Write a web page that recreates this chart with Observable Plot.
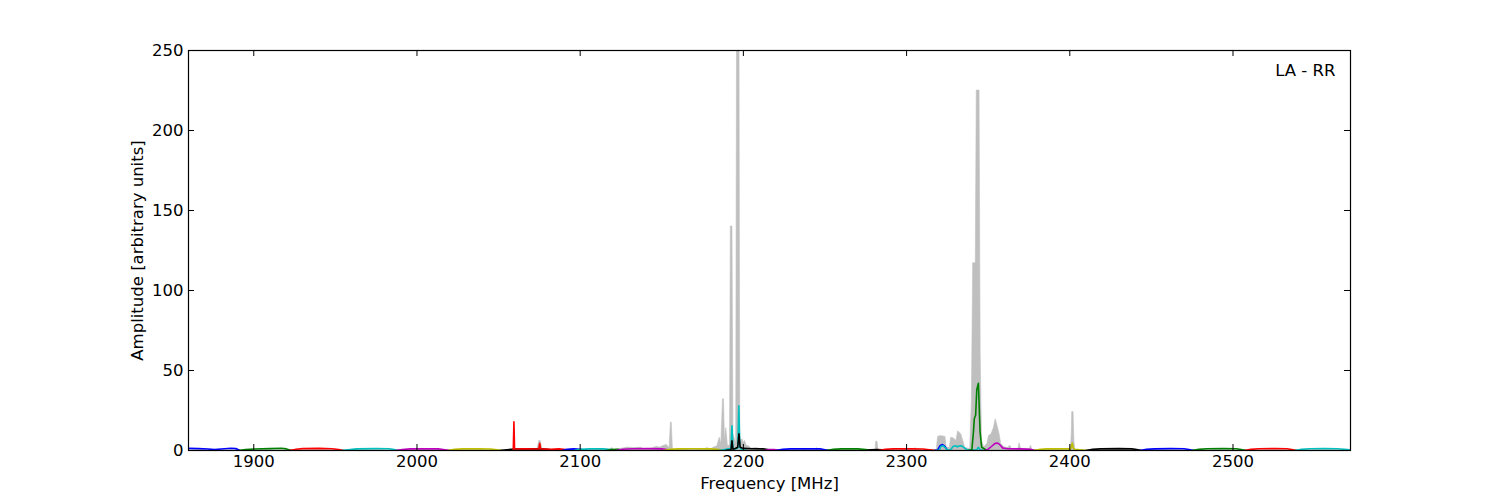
<!DOCTYPE html>
<html><head><meta charset="utf-8">
<script src="https://cdn.jsdelivr.net/npm/d3@7"></script>
<script src="https://cdn.jsdelivr.net/npm/@observablehq/plot@0.6"></script>
<style>body{margin:0;background:#fff;} #chart{width:1500px;height:500px;}</style>
</head><body><div id="chart"></div>
<script>
const xTicks = [1900, 2000, 2100, 2200, 2300, 2400, 2500];
const yTicks = [0, 50, 100, 150, 200, 250];
const panelLabel = "LA - RR";

// grey envelope (frequency, amplitude)
const grayFreq = [1860,2073.6,2075,2075.8,2077,2110,2118,2119.5,2121,2125,2129,2133,2137,2140,2144,2147,2149,2151,2153,2154.8,2155.6,2156.1,2156.8,2158,2163,2176,2178,2180,2182,2184,2185.5,2186.5,2187.5,2188.1,2188.7,2189.5,2190.5,2191.8,2192.3,2193.3,2193.9,2195.6,2196.1,2197.6,2198.1,2198.6,2199.4,2200.2,2201,2202,2203.5,2205,2208,2211,2214,2230,2230.5,2231,2236,2237,2238,2244,2245,2246,2281,2281.4,2282.2,2282.7,2305,2305.6,2306.2,2318.5,2319.3,2321,2323.8,2324.5,2326.5,2327.3,2329,2330.5,2331.6,2333.5,2335,2336,2339,2340,2340.8,2342.4,2343,2344.7,2345.4,2346.2,2347.5,2349.5,2350.5,2352,2353.5,2354.6,2355.8,2357,2358,2360,2362,2363.5,2364.5,2368.5,2369.2,2370.2,2375.5,2376.3,2377,2400.6,2401.2,2401.5,2402.3,2402.8,2403.4,2572];
const grayAmp  = [0,0,6,6,0,0,0,1.5,0.4,1,1.8,1.5,1.8,0.5,1.2,2.3,1.8,2.8,3.5,1.5,17.5,17.5,1,0.5,0.3,0.5,1.5,0.5,1.8,2.5,8,4,32,32,6,14,3,3,140,140,10,4,262,262,8,5,7,4.5,6,3,2.5,1.2,1.5,0.8,0,0,1,0,0,1.2,0,0,1.5,0,0,5.5,5.5,0,0,1.5,0,0,8.5,9,8.5,2,1.5,8,7.5,6,12,10,5,1.5,1,30,117,117,225,225,60,6,2,4,9,10,14,19.5,15,10,4,2,1.5,3,1,1,4.5,1,1,3,0,0,10,24,24,6,0,0];

// per-subband traces
const bandColor = ["#0000ff","#008000","#ff0000","#00bfbf","#bf00bf","#bfbf00","#000000",
  "#ff0000","#0000ff","#00bfbf","#008000","#bf00bf","#bfbf00","#00bfbf","#000000","#bf00bf",
  "#0000ff","#008000","#000000","#ff0000","#0000ff","#00bfbf","#008000","#bf00bf","#bfbf00",
  "#000000","#0000ff","#008000","#ff0000","#00bfbf"];
const bandFreq = [
  [1860,1866,1872,1876,1880,1886,1889,1891.5],
  [1891,1895,1900,1910,1917,1920,1923],
  [1922,1926,1930,1940,1948,1952,1955],
  [1954,1958,1963,1975,1983,1986,1988],
  [1987,1991,1996,2005,2013,2017,2020],
  [2019,2023,2028,2038,2045,2049,2052],
  [2051,2055,2060,2070,2078,2082,2084],
  [2059,2059.4,2059.8,2060.3,2066,2074.6,2075.2,2075.8,2082,2087,2091,2093],
  [2089,2092,2096,2100,2104],
  [2096,2100,2106,2114,2119,2122],
  [2116,2119,2123,2127],
  [2122,2126,2132,2142,2150,2154,2157],
  [2151,2155,2160,2170,2180,2185,2188],
  [2185,2188,2191,2192.4,2193,2193.6,2195,2196.6,2197.2,2197.8,2199,2202],
  [2189,2191,2192.4,2193,2193.6,2195,2196.5,2197.3,2198,2200,2205,2212,2216,2218],
  [2213,2216,2219,2222],
  [2220,2224,2229,2240,2247,2250,2253],
  [2251,2255,2260,2270,2275,2278],
  [2275,2278,2282,2285,2288],
  [2283,2287,2292,2303,2310,2314,2318],
  [2317,2319,2320.5,2322,2323.5,2325],
  [2318,2320,2321,2322.3,2323.5,2325,2327,2328.5,2330,2331,2332,2333.5,2335,2337,2340,2343,2344,2345,2347],
  [2338,2340,2341,2341.5,2342.3,2343,2344,2345,2346,2348,2350],
  [2348,2350,2352,2354,2355.5,2357,2359,2362,2370,2376,2379],
  [2378,2382,2386,2395,2400.5,2401.5,2402.2,2403,2406,2409,2411],
  [2410,2414,2419,2430,2438,2441,2444],
  [2443,2447,2452,2462,2470,2473,2476],
  [2475,2479,2484,2494,2502,2505,2508],
  [2507,2511,2516,2526,2533,2536,2539],
  [2538,2542,2547,2556,2564,2568,2572]
];
const bandAmp = [
  [1.3,1.2,0.9,0.6,0.9,1.4,1.2,0],
  [0,0.6,0.9,1.2,1.4,1,0],
  [0,0.8,1.2,1.3,1.1,0.6,0],
  [0,0.5,1,1.2,1.1,0.6,0],
  [0,0.6,1,1.1,1,0.5,0],
  [0,0.7,1,1.1,0.9,0.5,0],
  [0,0.5,0.9,1.0,0.9,0.4,0],
  [0,18,1,0.9,1,0.9,4.5,1,0.7,1,0.6,0],
  [0,0.8,1,0.8,0],
  [0,0.7,1,1,0.6,0],
  [0,0.6,0.7,0],
  [0,0.8,1.1,1.2,1,0.5,0],
  [0,0.7,1,1.1,1,0.6,0],
  [0,0.5,1,1.2,15.5,1.5,1,1.5,28,2,0.6,0],
  [0,0.3,0.5,6,0.8,1.2,2,10.5,2,1.3,1.1,1,0.5,0],
  [0,0.6,0.6,0],
  [0,0.7,1,1.1,1,0.5,0],
  [0,0.7,1,1,0.6,0],
  [0,0.5,0.6,0.4,0],
  [0,0.7,1,1.1,0.9,0.5,0],
  [0,0.3,3,3.7,2.5,0],
  [0,0.3,2.5,3,2,0.3,0.5,2.5,3,2.2,2.8,3,2,0.4,0.3,0.5,2,0.5,0],
  [0,0.5,12,20,22,38,42,12,2,0.8,0],
  [0,0.8,2.5,4.3,4.7,3.8,1.5,1.1,1,0.7,0],
  [0,0.7,1,1.1,1,4.5,1.5,0.7,0.5,0.2,0],
  [0,0.7,1,1.2,1,0.6,0],
  [0,0.7,1,1.2,1.1,0.6,0],
  [0,0.7,1.1,1.2,1.1,0.6,0],
  [0,0.7,1.1,1.2,1.1,0.6,0],
  [0,0.7,1.1,1.2,1.1,0.8,0.4]
];

const xDomain = [1860, 2572];
const yDomain = [0, 250];

const gray = grayFreq.map((f, i) => ({f, a: grayAmp[i]}));
const bandMarks = bandFreq.map((fs, b) =>
  Plot.line(fs.map((f, i) => ({f, a: bandAmp[b][i]})),
    {x: "f", y: "a", stroke: bandColor[b], strokeWidth: 1.6, clip: true}));

const tx = 6 / 1.6335; // inward tick length in MHz
const ty = 6 / 1.6;    // inward tick length in amplitude units

const chart = Plot.plot({
  width: 1500, height: 500,
  marginLeft: 188, marginRight: 150, marginTop: 50, marginBottom: 50,
  style: {fontFamily: "'DejaVu Sans', sans-serif", fontSize: "16.5px", color: "black", background: "white"},
  x: {domain: xDomain},
  y: {domain: yDomain},
  marks: [
    Plot.areaY(gray, {x: "f", y: "a", fill: "#bfbfbf", stroke: "#bfbfbf", strokeWidth: 0.6, clip: true}),
    ...bandMarks,
    Plot.ruleX(xTicks, {x: d => d, y1: 0, y2: ty, stroke: "black"}),
    Plot.ruleX(xTicks, {x: d => d, y1: 250 - ty, y2: 250, stroke: "black"}),
    Plot.ruleY(yTicks, {y: d => d, x1: xDomain[0], x2: xDomain[0] + tx, stroke: "black"}),
    Plot.ruleY(yTicks, {y: d => d, x1: xDomain[1] - tx, x2: xDomain[1], stroke: "black"}),
    Plot.frame({stroke: "black", strokeWidth: 1.2}),
    Plot.axisX(xTicks, {tickSize: 0, tickPadding: 5, label: null, tickFormat: d => String(d)}),
    Plot.axisY(yTicks, {tickSize: 0, tickPadding: 5, label: null, tickFormat: d => String(d)}),
    Plot.text(["Frequency [MHz]"], {frameAnchor: "bottom", dy: 33, text: d => d, fill: "black", lineAnchor: "middle"}),
    Plot.text(["Amplitude [arbitrary units]"], {frameAnchor: "left", dx: -51, rotate: -90, text: d => d, fill: "black", textAnchor: "middle", lineAnchor: "middle"}),
    Plot.text([panelLabel], {frameAnchor: "top-right", dx: -15, dy: 20, text: d => d, fill: "black", textAnchor: "end", lineAnchor: "middle"})
  ]
});
document.getElementById("chart").appendChild(chart);
</script></body></html>
